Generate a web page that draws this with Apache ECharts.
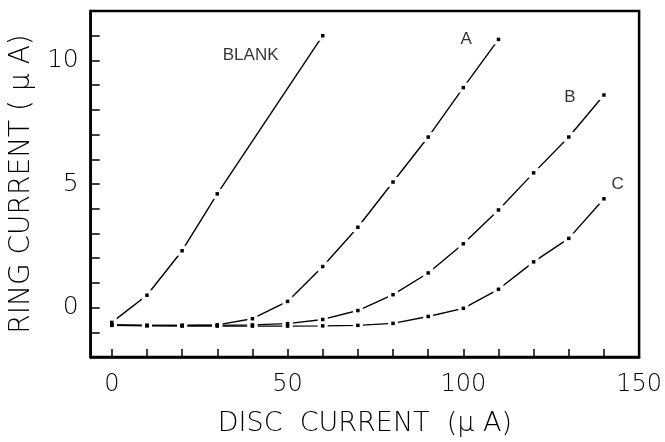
<!DOCTYPE html>
<html>
<head>
<meta charset="utf-8">
<script src="https://cdn.jsdelivr.net/npm/echarts@6/dist/echarts.min.js"></script>
<style>
  html, body { margin: 0; padding: 0; background: #fff; }
  #chart { width: 665px; height: 442px; }
</style>
</head>
<body>
<div id="chart"></div>
<script>
// disc current (uA) at each marker
var blankX = [0, 10, 20, 30, 60];
var blankY = [-0.6, 0.5, 2.3, 4.6, 11.0];
var aX = [0, 10, 20, 30, 40, 50, 60, 70, 80, 90, 100, 110];
var aY = [-0.7, -0.72, -0.72, -0.7, -0.45, 0.25, 1.66, 3.25, 5.08, 6.9, 8.9, 10.85];
var bX = [0, 10, 20, 30, 40, 50, 60, 70, 80, 90, 100, 110, 120, 130, 140];
var bY = [-0.7, -0.72, -0.72, -0.72, -0.7, -0.65, -0.48, -0.12, 0.52, 1.4, 2.58, 3.95, 5.45, 6.9, 8.6];
var cX = [0, 10, 20, 30, 40, 50, 60, 70, 80, 90, 100, 110, 120, 130, 140];
var cY = [-0.72, -0.74, -0.75, -0.75, -0.75, -0.75, -0.74, -0.72, -0.64, -0.36, -0.03, 0.74, 1.85, 2.8, 4.4];
// curve names and where they are written
var curveNames = ['BLANK', 'A', 'B', 'C'];
var nameX = [39.5, 100.8, 130.3, 143.9];
var nameY = [10.2, 10.85, 8.5, 5.0];
var xTicks = [0, 10, 20, 30, 40, 50, 60, 70, 80, 90, 100, 110, 120, 130, 140, 150];
var xLabels = [0, 50, 100, 150];
var yLabels = [0, 5, 10];

function pairs(xs, ys) {
    var out = [];
    for (var i = 0; i < xs.length; i++) out.push([xs[i], ys[i]]);
    return out;
}

var thinFont = 'DejaVu Sans';
var curves = [pairs(blankX, blankY), pairs(aX, aY), pairs(bX, bY), pairs(cX, cY)];

var series = [];
curves.forEach(function (d) {
    series.push({
        type: 'line',
        data: d,
        smooth: false,
        showSymbol: false,
        lineStyle: { color: '#000', width: 1.4 },
        emphasis: { disabled: true },
        z: 2
    });
});
curves.forEach(function (d) {
    // white squares cut the gap round each marker
    series.push({
        type: 'scatter',
        data: d,
        symbol: 'rect',
        symbolSize: 10,
        itemStyle: { color: '#ffffff', opacity: 1 },
        emphasis: { disabled: true },
        z: 3
    });
});
curves.forEach(function (d) {
    // the black marker squares
    series.push({
        type: 'scatter',
        data: d,
        symbol: 'rect',
        symbolSize: 3.5,
        itemStyle: { color: '#000', opacity: 1 },
        z: 4
    });
});
var nameData = [];
for (var i = 0; i < curveNames.length; i++) nameData.push([nameX[i], nameY[i], curveNames[i]]);
series.push({
    type: 'scatter',
    data: nameData,
    symbolSize: 0,
    z: 5,
    label: {
        show: true,
        position: 'inside',
        formatter: function (p) { return p.value[2]; },
        fontFamily: 'Liberation Sans',
        fontSize: 17,
        color: '#000'
    }
});

var myChart = echarts.init(document.getElementById('chart'));
var option = {
    animation: false,
    grid: {
        left: 88, right: 25, top: 11, bottom: 78,
        show: true,
        borderColor: '#000',
        borderWidth: 2.5,
        backgroundColor: '#fff'
    },
    xAxis: {
        type: 'value',
        min: -6,
        max: 150,
        name: 'DISC  CURRENT  (\u03bc A)',
        nameLocation: 'middle',
        nameGap: 53,
        nameTextStyle: { fontFamily: thinFont, fontWeight: 200, fontSize: 27, color: '#000' },
        axisLine: { show: true, onZero: false, lineStyle: { color: '#000', width: 2.5 } },
        axisTick: { show: true, inside: true, length: 8, customValues: xTicks, lineStyle: { color: '#000', width: 1.5 } },
        axisLabel: { customValues: xLabels, margin: 16, fontFamily: thinFont, fontWeight: 200, fontSize: 24, color: '#000' },
        splitLine: { show: false }
    },
    yAxis: {
        type: 'value',
        min: -2,
        max: 12,
        interval: 1,
        name: 'RING CURRENT ( \u03bc A)',
        nameLocation: 'middle',
        nameGap: 50,
        nameTextStyle: { fontFamily: thinFont, fontWeight: 200, fontSize: 28, color: '#000' },
        axisLine: { show: true, onZero: false, lineStyle: { color: '#000', width: 2.5 } },
        axisTick: { show: true, inside: true, length: 9, lineStyle: { color: '#000', width: 1.5 } },
        axisLabel: { customValues: yLabels, margin: 12, fontFamily: thinFont, fontWeight: 200, fontSize: 25, color: '#000' },
        splitLine: { show: false }
    },
    series: series
};
myChart.setOption(option);
</script>
</body>
</html>
